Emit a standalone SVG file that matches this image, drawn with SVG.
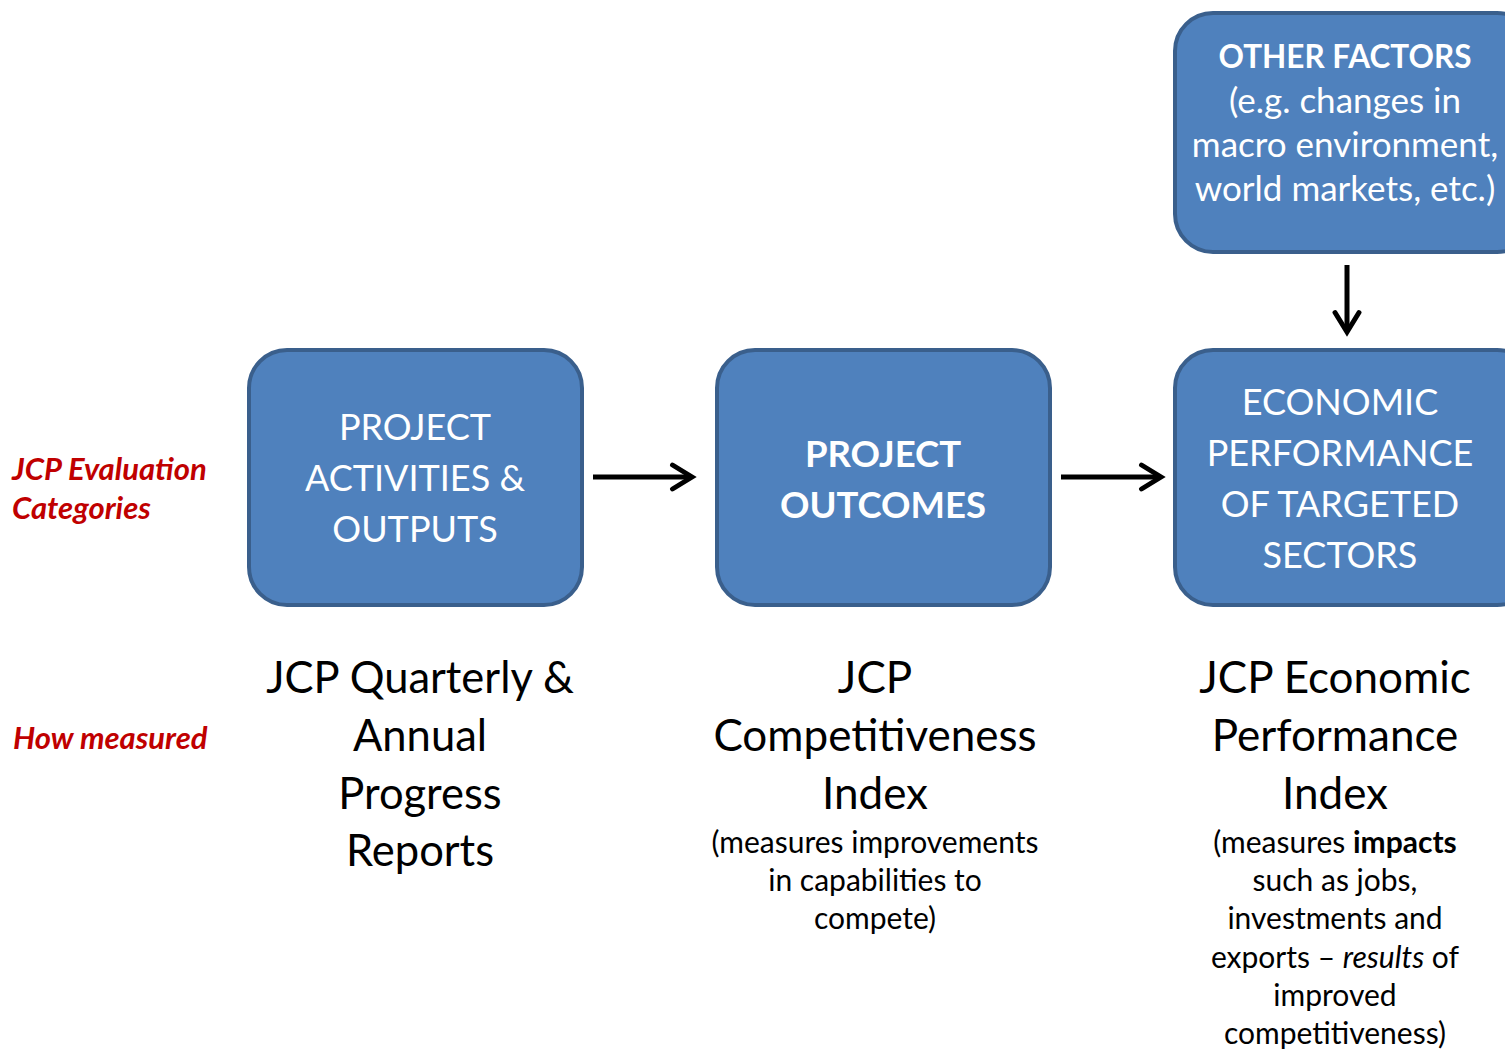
<svg xmlns="http://www.w3.org/2000/svg" width="1505" height="1050" viewBox="0 0 1505 1050">
<defs>
<style>
.box{fill:#4F81BD;stroke:#3A5F8C;stroke-width:4}
.bt{font-family:Lato,"Open Sans",sans-serif;fill:#fff;text-anchor:middle}
.t{font-family:Lato,"Open Sans",sans-serif;fill:#000;text-anchor:middle}
.red{font-family:Lato,"Open Sans",sans-serif;fill:#C00000;font-weight:bold;font-style:italic;font-size:31px}
.conn{stroke:#000;stroke-width:5;fill:none}
</style>
<marker id="ah" viewBox="0 0 20 20" refX="17" refY="10" markerWidth="6" markerHeight="6" markerUnits="strokeWidth" orient="auto">
<path d="M4,2 L17,10 L4,18" fill="none" stroke="#000" stroke-width="3.3" stroke-linecap="round" stroke-linejoin="miter"/>
</marker>
</defs>
<rect width="1505" height="1050" fill="#fff"/>
<g id="labels">
<text class="red" x="12" y="480">JCP Evaluation</text>
<text class="red" x="12" y="519">Categories</text>
<text class="red" x="13" y="749">How measured</text>
</g>
<g id="node-other">
<rect class="box" x="1175" y="13" width="360" height="239" rx="38"/>
<text class="bt" font-size="31.5" font-weight="bold" x="1345" y="68">OTHER FACTORS</text>
<text class="bt" font-size="35" x="1345" y="113">(e.g. changes in</text>
<text class="bt" font-size="35" x="1345" y="157">macro environment,</text>
<text class="bt" font-size="35" x="1345" y="201">world markets, etc.)</text>
</g>
<g id="node-activities">
<rect class="box" x="249" y="350" width="333" height="255" rx="38"/>
<text class="bt" font-size="36" x="415" y="440">PROJECT</text>
<text class="bt" font-size="36" x="415" y="491">ACTIVITIES &amp;</text>
<text class="bt" font-size="36" x="415" y="542">OUTPUTS</text>
</g>
<g id="node-outcomes">
<rect class="box" x="717" y="350" width="333" height="255" rx="38"/>
<text class="bt" font-size="36.5" font-weight="bold" x="883" y="467">PROJECT</text>
<text class="bt" font-size="36.5" font-weight="bold" x="883" y="518">OUTCOMES</text>
</g>
<g id="node-economic">
<rect class="box" x="1175" y="350" width="360" height="255" rx="38"/>
<text class="bt" font-size="36" x="1340" y="415">ECONOMIC</text>
<text class="bt" font-size="36" x="1340" y="466">PERFORMANCE</text>
<text class="bt" font-size="36" x="1340" y="517">OF TARGETED</text>
<text class="bt" font-size="36" x="1340" y="568">SECTORS</text>
</g>
<g id="measure-1">
<text class="t" font-size="43.5" x="420" y="693">JCP Quarterly &amp;</text>
<text class="t" font-size="43.5" x="420" y="751">Annual</text>
<text class="t" font-size="43.5" x="420" y="809">Progress</text>
<text class="t" font-size="43.5" x="420" y="866">Reports</text>
</g>
<g id="measure-2">
<text class="t" font-size="44" x="875" y="693">JCP</text>
<text class="t" font-size="44" x="875" y="751">Competitiveness</text>
<text class="t" font-size="44" x="875" y="809">Index</text>
<text class="t" font-size="30" x="875" y="853">(measures improvements</text>
<text class="t" font-size="30" x="875" y="891">in capabilities to</text>
<text class="t" font-size="30" x="875" y="929">compete)</text>
</g>
<g id="measure-3">
<text class="t" font-size="44" x="1335" y="693">JCP Economic</text>
<text class="t" font-size="44" x="1335" y="751">Performance</text>
<text class="t" font-size="44" x="1335" y="809">Index</text>
<text class="t" font-size="30" x="1335" y="853">(measures <tspan font-weight="bold">impacts</tspan></text>
<text class="t" font-size="30" x="1335" y="891">such as jobs,</text>
<text class="t" font-size="30" x="1335" y="929">investments and</text>
<text class="t" font-size="30" x="1335" y="968">exports – <tspan font-style="italic">results</tspan> of</text>
<text class="t" font-size="30" x="1335" y="1006">improved</text>
<text class="t" font-size="30" x="1335" y="1044">competitiveness)</text>
</g>
<g id="connectors">
<line class="conn" x1="593" y1="477" x2="692" y2="477" marker-end="url(#ah)"/>
<line class="conn" x1="1061" y1="477" x2="1161" y2="477" marker-end="url(#ah)"/>
<line class="conn" x1="1347" y1="265" x2="1347" y2="332" marker-end="url(#ah)"/>
</g>
</svg>
